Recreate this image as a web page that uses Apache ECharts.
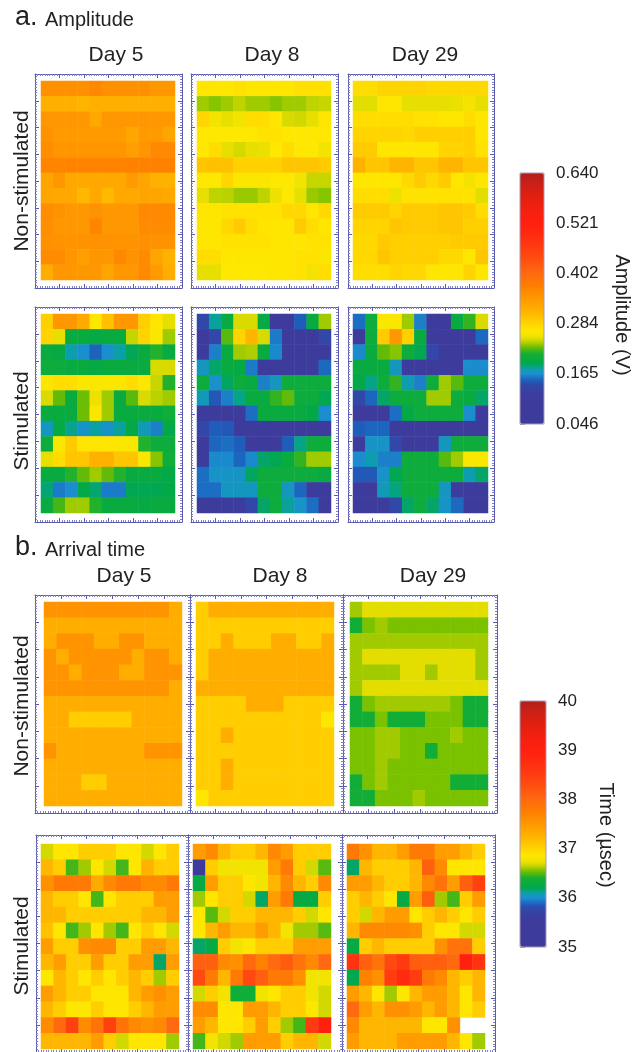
<!DOCTYPE html>
<html>
<head>
<meta charset="utf-8">
<title>Amplitude and arrival time maps</title>
<script src="https://cdn.jsdelivr.net/npm/echarts@6.0.0/dist/echarts.min.js"></script>
<style>
  html, body { margin: 0; padding: 0; background: #fff; }
  #chart { width: 632px; height: 1052px; }
</style>
</head>
<body>
<div id="chart"></div>
<script>
// electrode grid: 11 columns x 13 rows, row 1 on top
const xCats = ['1', '2', '3', '4', '5', '6', '7', '8', '9', '10', '11']
const yCats = ['1', '2', '3', '4', '5', '6', '7', '8', '9', '10', '11', '12', '13']
const dayLabels = ['Day 5', 'Day 8', 'Day 29']
const ampTicks = [46, 164.8, 283.6, 402.4, 521.2, 640] // mV, printed in V
const timeTicks = [35, 36, 37, 38, 39, 40] // usec

// a. amplitude (mV)
const ampDay5Non = [
  [352, 352, 352, 352, 362, 352, 352, 352, 352, 345, 345],
  [318, 318, 318, 312, 318, 318, 318, 318, 318, 318, 318],
  [345, 345, 345, 345, 325, 345, 345, 345, 345, 345, 345],
  [350, 342, 342, 342, 342, 342, 342, 328, 342, 342, 330],
  [356, 346, 346, 346, 346, 346, 346, 335, 346, 360, 360],
  [366, 366, 368, 368, 368, 368, 368, 370, 370, 370, 370],
  [330, 344, 326, 324, 324, 324, 324, 342, 330, 316, 316],
  [330, 324, 326, 308, 326, 306, 324, 326, 330, 330, 324],
  [356, 350, 344, 344, 350, 344, 344, 344, 360, 360, 360],
  [354, 344, 344, 344, 366, 344, 344, 344, 358, 358, 358],
  [352, 350, 348, 350, 350, 350, 348, 350, 352, 350, 350],
  [358, 358, 346, 336, 346, 344, 362, 350, 358, 330, 316],
  [320, 344, 344, 344, 344, 330, 344, 344, 360, 342, 320]
]
const ampDay8Non = [
  [268, 268, 268, 274, 268, 268, 268, 268, 274, 274, 274],
  [236, 232, 236, 241, 236, 236, 232, 236, 236, 241, 243],
  [282, 254, 250, 254, 276, 276, 268, 247, 245, 250, 268],
  [266, 266, 266, 266, 266, 272, 272, 266, 266, 266, 266],
  [266, 276, 250, 246, 250, 251, 266, 276, 266, 266, 254],
  [296, 300, 300, 286, 286, 286, 286, 296, 296, 296, 292],
  [266, 266, 282, 264, 264, 264, 266, 266, 254, 243, 243],
  [250, 241, 240, 235, 235, 241, 252, 266, 250, 235, 232],
  [268, 268, 272, 272, 272, 272, 272, 280, 280, 268, 280],
  [268, 268, 280, 292, 276, 268, 268, 268, 292, 276, 268],
  [268, 268, 272, 272, 272, 272, 268, 268, 268, 272, 272],
  [276, 276, 268, 268, 268, 268, 268, 268, 272, 272, 264],
  [250, 250, 266, 266, 266, 266, 268, 268, 272, 256, 276]
]
const ampDay29Non = [
  [276, 276, 284, 284, 284, 284, 280, 280, 280, 280, 280],
  [249, 249, 268, 268, 250, 250, 250, 250, 251, 256, 250],
  [276, 276, 276, 276, 276, 272, 272, 268, 268, 276, 268],
  [284, 284, 284, 284, 280, 288, 288, 288, 288, 288, 268],
  [292, 292, 268, 268, 268, 268, 268, 284, 284, 288, 272],
  [316, 296, 296, 312, 312, 296, 296, 312, 312, 296, 296],
  [268, 268, 268, 268, 280, 292, 280, 292, 268, 256, 268],
  [276, 276, 276, 252, 272, 272, 272, 272, 272, 272, 249],
  [292, 292, 292, 284, 292, 292, 292, 296, 296, 292, 276],
  [284, 284, 284, 296, 292, 292, 292, 296, 296, 288, 288],
  [280, 280, 292, 288, 288, 288, 288, 288, 292, 292, 292],
  [280, 280, 296, 288, 288, 288, 288, 280, 280, 268, 296],
  [276, 276, 276, 284, 280, 280, 268, 268, 268, 284, 268]
]
const ampDay5Stim = [
  [288, 344, 344, 323, 268, 300, 344, 344, 288, 268, 250],
  [284, 250, 200, 200, 195, 200, 200, 242, 284, 264, 236],
  [200, 195, 175, 165, 150, 165, 177, 187, 200, 215, 200],
  [205, 205, 200, 200, 196, 200, 200, 200, 200, 247, 247],
  [264, 276, 276, 264, 264, 264, 264, 276, 268, 243, 215],
  [247, 226, 200, 228, 252, 236, 200, 224, 247, 240, 236],
  [200, 200, 200, 228, 264, 236, 200, 200, 200, 200, 207],
  [170, 195, 180, 167, 177, 167, 178, 192, 172, 160, 192],
  [205, 264, 292, 268, 268, 268, 264, 264, 215, 205, 205],
  [250, 276, 296, 296, 316, 316, 296, 296, 264, 232, 207],
  [200, 200, 215, 226, 236, 226, 215, 200, 200, 200, 192],
  [183, 158, 164, 192, 184, 158, 158, 188, 188, 188, 192],
  [200, 221, 236, 236, 215, 200, 200, 200, 195, 200, 200]
]
const ampDay8Stim = [
  [138, 178, 200, 247, 247, 195, 80, 80, 148, 200, 236],
  [85, 135, 224, 284, 312, 247, 158, 85, 85, 85, 135],
  [85, 160, 200, 236, 238, 200, 163, 85, 85, 85, 85],
  [170, 185, 200, 196, 158, 85, 85, 85, 85, 85, 152],
  [205, 166, 186, 205, 200, 160, 170, 205, 205, 205, 205],
  [172, 146, 160, 181, 200, 200, 218, 226, 205, 205, 188],
  [85, 85, 85, 88, 154, 200, 200, 200, 200, 192, 164],
  [135, 148, 146, 85, 85, 85, 85, 85, 85, 85, 85],
  [85, 151, 154, 148, 88, 88, 88, 148, 181, 205, 205],
  [88, 163, 163, 151, 163, 185, 188, 200, 218, 236, 236],
  [154, 168, 168, 168, 186, 205, 205, 205, 205, 205, 200],
  [154, 154, 170, 170, 170, 205, 205, 170, 151, 85, 85],
  [85, 85, 85, 85, 135, 185, 205, 178, 168, 154, 85]
]
const ampDay29Stim = [
  [154, 205, 264, 264, 236, 160, 85, 85, 200, 218, 247],
  [85, 205, 292, 344, 288, 200, 85, 85, 85, 85, 152],
  [163, 200, 226, 232, 205, 188, 135, 85, 85, 85, 85],
  [200, 200, 200, 170, 85, 85, 85, 85, 85, 164, 164],
  [192, 181, 205, 218, 175, 160, 205, 236, 224, 205, 205],
  [138, 151, 185, 205, 205, 205, 236, 236, 205, 200, 185],
  [85, 85, 85, 154, 192, 205, 205, 205, 205, 164, 85],
  [148, 151, 151, 85, 85, 85, 85, 85, 85, 85, 85],
  [85, 168, 168, 138, 85, 85, 85, 170, 205, 205, 205],
  [164, 175, 160, 160, 205, 205, 205, 224, 236, 264, 264],
  [146, 146, 168, 188, 205, 205, 205, 205, 205, 175, 185],
  [85, 85, 172, 182, 205, 205, 205, 170, 85, 85, 85],
  [85, 85, 85, 138, 185, 205, 185, 168, 152, 85, 85]
]

// b. arrival time (usec), null = no reading
const timeDay5Non = [
  [37.55, 37.55, 37.55, 37.55, 37.55, 37.55, 37.55, 37.55, 37.55, 37.55, 37.3],
  [37.3, 37.3, 37.3, 37.3, 37.3, 37.3, 37.3, 37.3, 37.3, 37.3, 37.3],
  [37.3, 37.55, 37.55, 37.55, 37.3, 37.3, 37.55, 37.55, 37.3, 37.3, 37.3],
  [37.55, 37.3, 37.55, 37.55, 37.55, 37.55, 37.55, 37.3, 37.55, 37.55, 37.3],
  [37.55, 37.55, 37.3, 37.55, 37.55, 37.55, 37.3, 37.3, 37.55, 37.55, 37.55],
  [37.55, 37.55, 37.55, 37.55, 37.55, 37.55, 37.55, 37.55, 37.55, 37.55, 37.3],
  [37.3, 37.3, 37.3, 37.3, 37.3, 37.3, 37.3, 37.3, 37.3, 37.3, 37.3],
  [37.3, 37.3, 37.05, 37.05, 37.05, 37.05, 37.05, 37.3, 37.3, 37.3, 37.3],
  [37.3, 37.3, 37.3, 37.3, 37.3, 37.3, 37.3, 37.3, 37.3, 37.3, 37.3],
  [37.55, 37.3, 37.3, 37.3, 37.3, 37.3, 37.3, 37.3, 37.55, 37.55, 37.55],
  [37.3, 37.3, 37.3, 37.3, 37.3, 37.3, 37.3, 37.3, 37.3, 37.3, 37.3],
  [37.3, 37.3, 37.3, 37.05, 37.05, 37.3, 37.3, 37.3, 37.3, 37.3, 37.3],
  [37.3, 37.3, 37.3, 37.3, 37.3, 37.3, 37.3, 37.3, 37.3, 37.3, 37.3]
]
const timeDay8Non = [
  [37.05, 37.3, 37.3, 37.3, 37.3, 37.3, 37.3, 37.3, 37.3, 37.3, 37.3],
  [37.05, 37.05, 37.05, 37.05, 37.05, 37.05, 37.05, 37.05, 37.05, 37.05, 37.05],
  [37.05, 37.05, 37.3, 37.05, 37.05, 37.05, 37.3, 37.3, 37.05, 37.05, 37.3],
  [37.05, 37.3, 37.3, 37.3, 37.3, 37.3, 37.3, 37.3, 37.3, 37.3, 37.3],
  [37.05, 37.3, 37.3, 37.3, 37.3, 37.3, 37.3, 37.3, 37.3, 37.3, 37.3],
  [37.3, 37.3, 37.3, 37.3, 37.3, 37.3, 37.3, 37.3, 37.3, 37.3, 37.3],
  [37.05, 37.05, 37.05, 37.05, 37.3, 37.3, 37.3, 37.05, 37.05, 37.05, 37.05],
  [37.05, 37.05, 37.05, 37.05, 37.05, 37.05, 37.05, 37.05, 37.05, 37.05, 36.87],
  [37.05, 37.05, 37.3, 37.05, 37.05, 37.05, 37.05, 37.05, 37.05, 37.05, 37.05],
  [37.05, 37.05, 37.05, 37.05, 37.05, 37.05, 37.05, 37.05, 37.05, 37.05, 37.05],
  [37.05, 37.05, 37.3, 37.05, 37.05, 37.05, 37.05, 37.05, 37.05, 37.05, 37.05],
  [37.05, 37.05, 37.3, 37.05, 37.05, 37.05, 37.05, 37.05, 37.05, 37.05, 37.05],
  [36.87, 37.05, 37.05, 37.05, 37.05, 37.05, 37.05, 37.05, 37.05, 37.05, 37.05]
]
const timeDay29Non = [
  [36.6, 36.71, 36.71, 36.71, 36.71, 36.71, 36.71, 36.71, 36.71, 36.71, 36.71],
  [36.38, 36.55, 36.6, 36.55, 36.55, 36.55, 36.55, 36.55, 36.55, 36.55, 36.55],
  [36.6, 36.6, 36.6, 36.6, 36.6, 36.6, 36.6, 36.6, 36.6, 36.6, 36.6],
  [36.6, 36.71, 36.71, 36.71, 36.71, 36.71, 36.71, 36.71, 36.71, 36.71, 36.6],
  [36.6, 36.6, 36.6, 36.6, 36.71, 36.71, 36.6, 36.71, 36.71, 36.71, 36.6],
  [36.6, 36.71, 36.71, 36.71, 36.71, 36.71, 36.71, 36.71, 36.71, 36.71, 36.71],
  [36.38, 36.55, 36.6, 36.6, 36.6, 36.6, 36.6, 36.6, 36.55, 36.38, 36.38],
  [36.38, 36.38, 36.55, 36.38, 36.38, 36.38, 36.55, 36.55, 36.55, 36.38, 36.38],
  [36.55, 36.55, 36.6, 36.6, 36.55, 36.55, 36.55, 36.55, 36.6, 36.55, 36.55],
  [36.55, 36.55, 36.6, 36.6, 36.55, 36.55, 36.38, 36.55, 36.55, 36.55, 36.55],
  [36.55, 36.55, 36.6, 36.55, 36.55, 36.55, 36.55, 36.55, 36.55, 36.55, 36.55],
  [36.38, 36.55, 36.6, 36.55, 36.55, 36.55, 36.55, 36.55, 36.38, 36.38, 36.38],
  [36.38, 36.38, 36.55, 36.55, 36.55, 36.6, 36.55, 36.55, 36.55, 36.55, 36.55]
]
const timeDay5Stim = [
  [36.68, 36.87, 36.87, 37.05, 37.05, 37.05, 36.87, 36.87, 36.68, 36.87, 37.05],
  [37.23, 37.05, 36.47, 36.6, 36.87, 36.68, 36.47, 36.87, 37.25, 37.05, 37.05],
  [37.58, 37.82, 37.82, 37.82, 37.33, 37.65, 37.82, 37.82, 37.65, 37.65, 37.82],
  [37.23, 37.05, 37.05, 36.87, 36.47, 36.87, 37.05, 37.05, 37.05, 37.47, 37.47],
  [37.23, 37.23, 37.05, 37.05, 37.05, 37.05, 37.05, 37.05, 37.23, 37.23, 37.47],
  [37.13, 36.87, 36.47, 36.6, 36.87, 36.6, 36.47, 36.87, 37.05, 36.87, 36.68],
  [37.47, 37.05, 37.05, 37.58, 37.65, 37.65, 37.05, 37.05, 37.47, 37.47, 37.23],
  [37.23, 37.47, 37.05, 37.05, 37.47, 37.05, 37.05, 37.47, 37.47, 36.17, 37.47],
  [36.85, 37.23, 37.05, 36.87, 37.05, 36.87, 37.05, 37.23, 37.05, 36.6, 37.05],
  [37.47, 37.23, 37.05, 37.05, 36.87, 36.87, 36.87, 37.23, 37.47, 37.58, 37.47],
  [37.23, 37.05, 36.87, 36.87, 37.05, 36.87, 36.87, 37.05, 37.23, 37.47, 37.47],
  [37.62, 38.0, 38.45, 37.62, 37.9, 38.45, 37.9, 37.65, 37.58, 37.65, 38.0],
  [37.23, 37.23, 37.23, 37.23, 37.47, 37.05, 36.68, 36.87, 36.87, 36.87, 36.6]
]
const timeDay8Stim = [
  [37.47, 37.65, 37.23, 37.05, 37.05, 37.23, 37.65, 37.47, 37.05, 37.05, 37.05],
  [35.3, 37.05, 36.75, 36.75, 36.75, 36.75, 37.47, 37.82, 37.05, 36.68, 36.5],
  [36.25, 37.47, 37.05, 37.05, 36.87, 36.75, 37.23, 37.65, 37.23, 37.05, 37.65],
  [36.6, 36.87, 37.05, 37.05, 36.68, 36.17, 37.47, 37.82, 36.25, 36.25, 37.05],
  [36.87, 36.5, 36.68, 37.05, 37.05, 37.23, 37.23, 37.23, 37.05, 36.68, 36.87],
  [36.87, 37.23, 37.47, 37.23, 37.23, 37.47, 37.23, 36.75, 36.6, 36.6, 36.5],
  [36.17, 36.25, 37.05, 36.75, 36.87, 37.05, 37.05, 37.05, 37.47, 37.47, 37.47],
  [38.1, 38.1, 37.65, 37.58, 38.0, 37.73, 38.0, 38.15, 37.9, 37.65, 38.0],
  [38.35, 37.82, 37.23, 37.82, 38.35, 38.1, 37.82, 37.82, 37.58, 36.75, 36.75],
  [36.68, 37.05, 36.75, 36.35, 36.35, 36.75, 36.87, 37.05, 37.05, 36.75, 36.68],
  [37.62, 37.62, 36.87, 36.87, 37.47, 37.47, 37.23, 37.05, 37.05, 36.87, 36.68],
  [37.47, 37.23, 36.87, 36.87, 37.05, 37.47, 37.05, 36.6, 36.47, 38.55, 39.0],
  [36.47, 36.75, 36.68, 36.6, 37.47, 37.47, 37.47, 37.05, 37.23, 37.23, 36.68]
]
const timeDay29Stim = [
  [37.82, 37.58, 37.23, 37.23, 37.47, 37.82, 37.82, 37.47, 37.47, 37.23, 37.05],
  [36.17, 37.23, 37.05, 37.05, 37.05, 37.23, 38.1, 37.62, 36.87, 36.87, 36.87],
  [37.47, 37.47, 37.23, 37.05, 37.05, 37.23, 37.65, 37.9, 37.47, 38.1, 38.45],
  [37.05, 37.23, 37.05, 36.87, 36.25, 37.47, 38.15, 36.6, 36.47, 37.05, 37.47],
  [37.05, 36.68, 37.23, 37.47, 37.47, 36.87, 37.05, 37.23, 37.05, 36.87, 37.05],
  [37.23, 37.65, 37.65, 37.65, 37.65, 37.58, 37.05, 36.87, 36.87, 36.68, 36.68],
  [36.25, 37.05, 37.23, 37.05, 37.05, 37.05, 37.05, 37.58, 37.9, 37.9, 37.05],
  [38.65, 38.1, 37.9, 38.35, 38.55, 38.15, 38.1, 38.1, 38.0, 39.0, 38.65],
  [36.2, 37.73, 37.58, 38.5, 38.8, 38.5, 37.82, 37.65, 37.23, 37.05, 37.23],
  [37.47, 37.23, 36.87, 36.6, 36.87, 37.23, 37.47, 37.47, 37.23, 36.87, 37.23],
  [38.0, 37.47, 37.23, 37.58, 37.58, 37.47, 37.23, 37.47, 37.23, 36.87, 37.05],
  [37.65, 37.23, 37.23, 37.23, 37.23, 37.23, 36.85, 36.85, 37.58, null, null],
  [37.47, 37.23, 37.23, 37.23, 37.47, 37.47, 37.47, 37.47, 37.23, 36.87, 36.6]
]

const font = '"Liberation Sans", Arial, Helvetica, sans-serif'
const frameColor = '#5a5ab0'
const frameTick = '#8080c4'
const barBorder = '#a898b4'

// jet-like colour scale
const jetStops = [
  [0, '#3d3b9b'], [0.12, '#3d3c9e'], [0.16, '#2f4aab'], [0.173, '#1d5fbd'], [0.2, '#1b8fcf'],
  [0.22, '#0ba0a8'], [0.24, '#00a84a'], [0.28, '#13ae35'], [0.307, '#6fbe00'], [0.327, '#bcd200'],
  [0.347, '#f0e200'], [0.373, '#ffe700'], [0.4, '#ffd400'], [0.427, '#ffc000'], [0.467, '#ffaa00'],
  [0.507, '#ff9500'], [0.547, '#ff8000'], [0.6, '#ff6a10'], [0.653, '#ff5010'], [0.707, '#ff3a10'],
  [0.76, '#ff2a10'], [0.8, '#ff2010'], [0.853, '#f52010'], [0.907, '#e02010'], [0.96, '#c82018'],
  [1, '#b02018']
]

function hex(c) {
  return [1, 3, 5].map(i => parseInt(c.slice(i, i + 2), 16))
}
function jetColors(n) {
  const out = []
  for (let k = 0; k < n; k++) {
    const f = k / (n - 1)
    let i = 0
    while (i < jetStops.length - 2 && f > jetStops[i + 1][0]) i++
    const [f0, c0] = jetStops[i]
    const [f1, c1] = jetStops[i + 1]
    const t = Math.min(1, Math.max(0, (f - f0) / (f1 - f0)))
    const a = hex(c0), b = hex(c1)
    out.push('rgb(' + a.map((v, j) => Math.round(v + (b[j] - v) * t)).join(',') + ')')
  }
  return out
}
const jet = jetColors(241)

const grid = []
const xAxis = []
const yAxis = []
const series = []

function addMap(values, box) {
  const g = grid.length
  grid.push({ left: box[0], top: box[1], width: box[2], height: box[3] })
  xAxis.push({ type: 'category', gridIndex: g, data: xCats, show: false })
  yAxis.push({ type: 'category', gridIndex: g, data: yCats, inverse: true, show: false })
  const data = []
  values.forEach((row, r) => row.forEach((v, c) => {
    if (v !== null) data.push([c, r, v])
  }))
  series.push({
    type: 'heatmap',
    xAxisIndex: xAxis.length - 1,
    yAxisIndex: yAxis.length - 1,
    data: data,
    itemStyle: { borderWidth: 0 },
    emphasis: { disabled: true }
  })
  return series.length - 1
}

// the dotted ruler frame round each map
function addFrame(box) {
  const g = grid.length
  grid.push({ left: box[0], top: box[1], width: box[2], height: box[3] })
  const ruler = max => ({
    type: 'value', gridIndex: g, min: 0, max: max, interval: 1,
    axisLine: { show: true, onZero: false, lineStyle: { color: frameColor, width: 1 } },
    axisTick: { show: true, inside: true, length: 4, lineStyle: { color: frameColor } },
    minorTick: { show: true, splitNumber: 10, length: 2, lineStyle: { color: frameTick } },
    axisLabel: { show: false },
    splitLine: { show: false }
  })
  xAxis.push({ ...ruler(6), position: 'bottom' }, { ...ruler(6), position: 'top' })
  yAxis.push({ ...ruler(8), position: 'left' }, { ...ruler(8), position: 'right' })
}

function addColorbar(box, ticks, fmt) {
  const g = grid.length
  grid.push({
    left: box[0], top: box[1], width: box[2], height: box[3],
    show: true, borderColor: barBorder, borderWidth: 1, backgroundColor: 'transparent', z: 5
  })
  xAxis.push({ type: 'value', gridIndex: g, show: false, min: 0, max: 1 })
  const minor = ticks.slice(1).map((t, i) => (t + ticks[i]) / 2)
  yAxis.push({
    type: 'value', gridIndex: g, position: 'right',
    min: ticks[0], max: ticks[ticks.length - 1],
    axisLine: { show: false },
    axisTick: { show: true, length: 5, customValues: ticks.concat(minor), lineStyle: { color: barBorder } },
    axisLabel: { customValues: ticks, formatter: fmt, fontSize: 17, color: '#222', margin: 12, fontFamily: font },
    splitLine: { show: false }
  })
}

// a. amplitude
const ampSeries = [
  addMap(ampDay5Non, [41, 81, 134, 199]),
  addMap(ampDay8Non, [197, 81, 134, 199]),
  addMap(ampDay29Non, [353, 81, 135, 199]),
  addMap(ampDay5Stim, [41, 314, 134, 199]),
  addMap(ampDay8Stim, [197, 314, 134, 199]),
  addMap(ampDay29Stim, [353, 314, 135, 199])
]
// b. arrival time
const timeSeries = [
  addMap(timeDay5Non, [44, 602, 138, 204]),
  addMap(timeDay8Non, [196, 602, 138, 204]),
  addMap(timeDay29Non, [350, 602, 138, 204]),
  addMap(timeDay5Stim, [41, 844, 138, 205]),
  addMap(timeDay8Stim, [193, 844, 138, 205]),
  addMap(timeDay29Stim, [347, 844, 138, 205])
]

;[
  [35, 74, 147, 214], [191, 74, 147, 214], [348, 74, 146, 214],
  [35, 307, 147, 215], [191, 307, 147, 215], [348, 307, 146, 215],
  [35, 595, 155, 218], [190, 595, 153, 218], [343, 595, 154, 218],
  [36, 835, 152, 220], [188, 835, 154, 220], [342, 835, 153, 220]
].forEach(addFrame)

addColorbar([520, 173, 24, 251], ampTicks, v => (v / 1000).toFixed(3))
addColorbar([520, 701, 26, 246], timeTicks, v => String(Math.round(v)))

function label(text, x, y, size, rotation) {
  return {
    type: 'text', x: x, y: y, rotation: rotation || 0, z: 10,
    style: { text: text, font: size + 'px ' + font, fill: '#222', textAlign: 'center', textVerticalAlign: 'middle' }
  }
}
function leftLabel(text, x, y, size) {
  return {
    type: 'text', x: x, y: y, z: 10,
    style: { text: text, font: size + 'px ' + font, fill: '#222', textAlign: 'left', textVerticalAlign: 'middle' }
  }
}

const graphic = [
  leftLabel('a.', 15, 18, 27),
  leftLabel('Amplitude', 45, 20, 20),
  leftLabel('b.', 15, 548, 27),
  leftLabel('Arrival time', 45, 550, 20),
  label(dayLabels[0], 116, 55, 21), label(dayLabels[1], 272, 55, 21), label(dayLabels[2], 425, 55, 21),
  label(dayLabels[0], 124, 576, 21), label(dayLabels[1], 280, 576, 21), label(dayLabels[2], 433, 576, 21),
  label('Non-stimulated', 22, 181, 21, Math.PI / 2),
  label('Stimulated', 22, 421, 21, Math.PI / 2),
  label('Non-stimulated', 22, 706, 21, Math.PI / 2),
  label('Stimulated', 22, 946, 21, Math.PI / 2),
  label('Amplitude (V)', 622, 315, 20, -Math.PI / 2),
  label('Time (\u00b5sec)', 606, 835, 20, -Math.PI / 2)
]

const chart = echarts.init(document.getElementById('chart'))
chart.setOption({
  backgroundColor: '#fff',
  animation: false,
  textStyle: { fontFamily: font },
  grid: grid,
  xAxis: xAxis,
  yAxis: yAxis,
  visualMap: [{
    type: 'continuous',
    seriesIndex: ampSeries,
    min: 46,
    max: 640,
    inRange: { color: jet },
    calculable: false,
    hoverLink: false,
    left: 520,
    top: 173,
    padding: 0,
    itemWidth: 24,
    itemHeight: 251
  }, {
    type: 'continuous',
    seriesIndex: timeSeries,
    min: 35,
    max: 40,
    inRange: { color: jet },
    calculable: false,
    hoverLink: false,
    left: 520,
    top: 701,
    padding: 0,
    itemWidth: 26,
    itemHeight: 246
  }],
  graphic: graphic,
  series: series
})
</script>
</body>
</html>
